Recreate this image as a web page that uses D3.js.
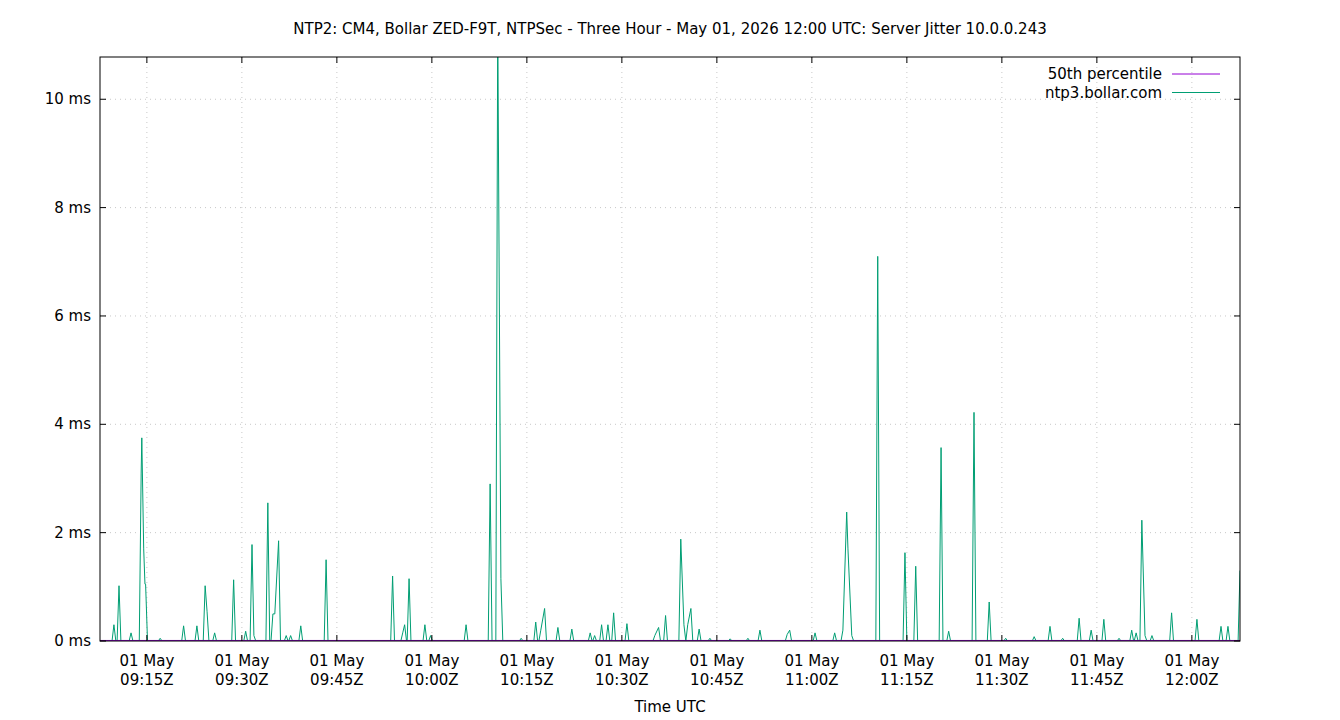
<!DOCTYPE html>
<html><head><meta charset="utf-8">
<script src="https://cdn.jsdelivr.net/npm/d3@7"></script>
<style>body{margin:0;background:#fff}svg{font-family:"DejaVu Sans",sans-serif}</style>
</head><body><svg id="c" width="1340" height="720"></svg>
<script>
// minutes after 09:00 UTC, 01 May 2026
const spikeTimes = [9.8,10.6,12.5,14.1,14.2,14.5,14.7,14.8,17.1,20.8,22.9,24.2,24.5,25.7,28.7,30.6,31.6,31.9,34.1,34.9,35.2,35.8,37.0,37.7,39.3,43.3,53.8,55.4,55.7,56.4,58.9,59.8,65.4,69.2,70.4,70.9,74.1,76.4,77.2,77.8,79.9,82.1,85.0,85.7,86.8,87.8,88.7,90.8,95.2,95.8,96.9,99.3,99.8,100.4,100.9,102.2,103.9,107.1,109.9,111.8,116.1,116.5,120.5,123.6,124.9,125.5,125.7,126.3,130.4,134.7,136.4,140.4,141.6,145.6,148.0,150.6,155.1,157.6,159.6,162.2,164.1,166.1,168.5,170.5,171.2,172.1,172.6,173.7,176.8,180.8,184.6,185.7,187.6];
const spikeValues = [0.3,1.02,0.15,3.1,3.75,1.7,1.05,1.05,0.05,0.28,0.28,1.02,0.55,0.15,1.13,0.18,1.78,0.1,2.55,0.5,0.5,1.85,0.1,0.1,0.28,1.5,1.2,0.15,0.3,1.15,0.3,0.1,0.3,2.9,11.5,1.15,0.05,0.35,0.2,0.6,0.25,0.22,0.15,0.1,0.3,0.3,0.52,0.32,0.1,0.25,0.47,1.88,0.3,0.3,0.6,0.22,0.05,0.04,0.05,0.2,0.12,0.2,0.15,0.15,0.2,2.38,1.7,0.1,7.1,1.63,1.38,3.57,0.18,4.22,0.72,0.05,0.08,0.27,0.05,0.42,0.2,0.4,0.05,0.2,0.15,2.23,0.1,0.1,0.52,0.4,0.27,0.27,1.3];
const pctTimes = [7.6,187.6];
const pctValues = [0.01,0.01];
const yTicks = [0,2,4,6,8,10];
const xTickMinutes = [15,30,45,60,75,90,105,120,135,150,165,180];
const xTickLabels = ["09:15Z","09:30Z","09:45Z","10:00Z","10:15Z","10:30Z","10:45Z","11:00Z","11:15Z","11:30Z","11:45Z","12:00Z"];
const title = "NTP2: CM4, Bollar ZED-F9T, NTPSec - Three Hour - May 01, 2026 12:00 UTC: Server Jitter 10.0.0.243";

// build series: baseline zeros between isolated samples
const series = [];
const pts = spikeTimes.map((t,i)=>({t,v:spikeValues[i]}));
series.push({t:7.6,v:0});
pts.forEach((p,i)=>{
  const prev = i? pts[i-1].t : 7.6;
  if (p.t - prev > 0.6) series.push({t:p.t-0.3,v:0});
  series.push(p);
  const next = i<pts.length-1 ? pts[i+1].t : 999;
  if (next - p.t > 0.6 && p.t+0.3 < 187.6) series.push({t:p.t+0.3,v:0});
});
series.push({t:187.6,v:spikeValues[spikeValues.length-1]});

const svg = d3.select("#c");
const L=100,R=1240,T=57,B=641;
const x = d3.scaleLinear().domain([7.6,187.6]).range([L,R]);
const y = d3.scaleLinear().domain([0,10.78]).range([B,T]);

const grid = svg.append("g").attr("stroke","#c8c8c8").attr("stroke-dasharray","1,4").attr("stroke-width",1);
yTicks.filter(d=>d>0).forEach(d=>grid.append("line").attr("x1",L).attr("x2",R).attr("y1",y(d)).attr("y2",y(d)));
xTickMinutes.forEach(d=>grid.append("line").attr("x1",x(d)).attr("x2",x(d)).attr("y1",T).attr("y2",B));

const clip = svg.append("clipPath").attr("id","pc").append("rect").attr("x",L).attr("y",T).attr("width",R-L).attr("height",B-T);
const line = d3.line().x(d=>x(d.t)).y(d=>y(d.v));
svg.append("path").datum(series).attr("clip-path","url(#pc)").attr("d",line).attr("fill","none").attr("stroke","#009e73").attr("stroke-width",1);
svg.append("path").datum(pctTimes.map((t,i)=>({t,v:pctValues[i]}))).attr("d",line).attr("fill","none").attr("stroke","#9400d3").attr("stroke-width",1);
// baseline dark blue
svg.append("rect").attr("x",L).attr("y",T).attr("width",R-L).attr("height",B-T).attr("fill","none").attr("stroke","#000");

const ax = svg.append("g").attr("stroke","#000");
yTicks.forEach(d=>{ax.append("line").attr("x1",L).attr("x2",L+6).attr("y1",y(d)).attr("y2",y(d));ax.append("line").attr("x1",R).attr("x2",R-6).attr("y1",y(d)).attr("y2",y(d));});
xTickMinutes.forEach(d=>{ax.append("line").attr("x1",x(d)).attr("x2",x(d)).attr("y1",B).attr("y2",B-6);ax.append("line").attr("x1",x(d)).attr("x2",x(d)).attr("y1",T).attr("y2",T+6);});

const tx = svg.append("g").attr("font-size",15).attr("fill","#000");
yTicks.forEach(d=>tx.append("text").attr("x",L-9).attr("y",y(d)+5).attr("text-anchor","end").text(d+" ms"));
xTickMinutes.forEach((d,i)=>{
  tx.append("text").attr("x",x(d)).attr("y",666).attr("text-anchor","middle").text("01 May");
  tx.append("text").attr("x",x(d)).attr("y",685).attr("text-anchor","middle").text(xTickLabels[i]);
});
tx.append("text").attr("x",670).attr("y",712).attr("text-anchor","middle").text("Time UTC");
tx.append("text").attr("x",670).attr("y",34).attr("text-anchor","middle").text(title);
const leg=[["50th percentile","#9400d3"],["ntp3.bollar.com","#009e73"]];
leg.forEach((l,i)=>{
  tx.append("text").attr("x",1162).attr("y",79+i*18.5).attr("text-anchor","end").text(l[0]);
  svg.append("line").attr("x1",1172).attr("x2",1220).attr("y1",74+i*18.5).attr("y2",74+i*18.5).attr("stroke",l[1]);
});
</script></body></html>
